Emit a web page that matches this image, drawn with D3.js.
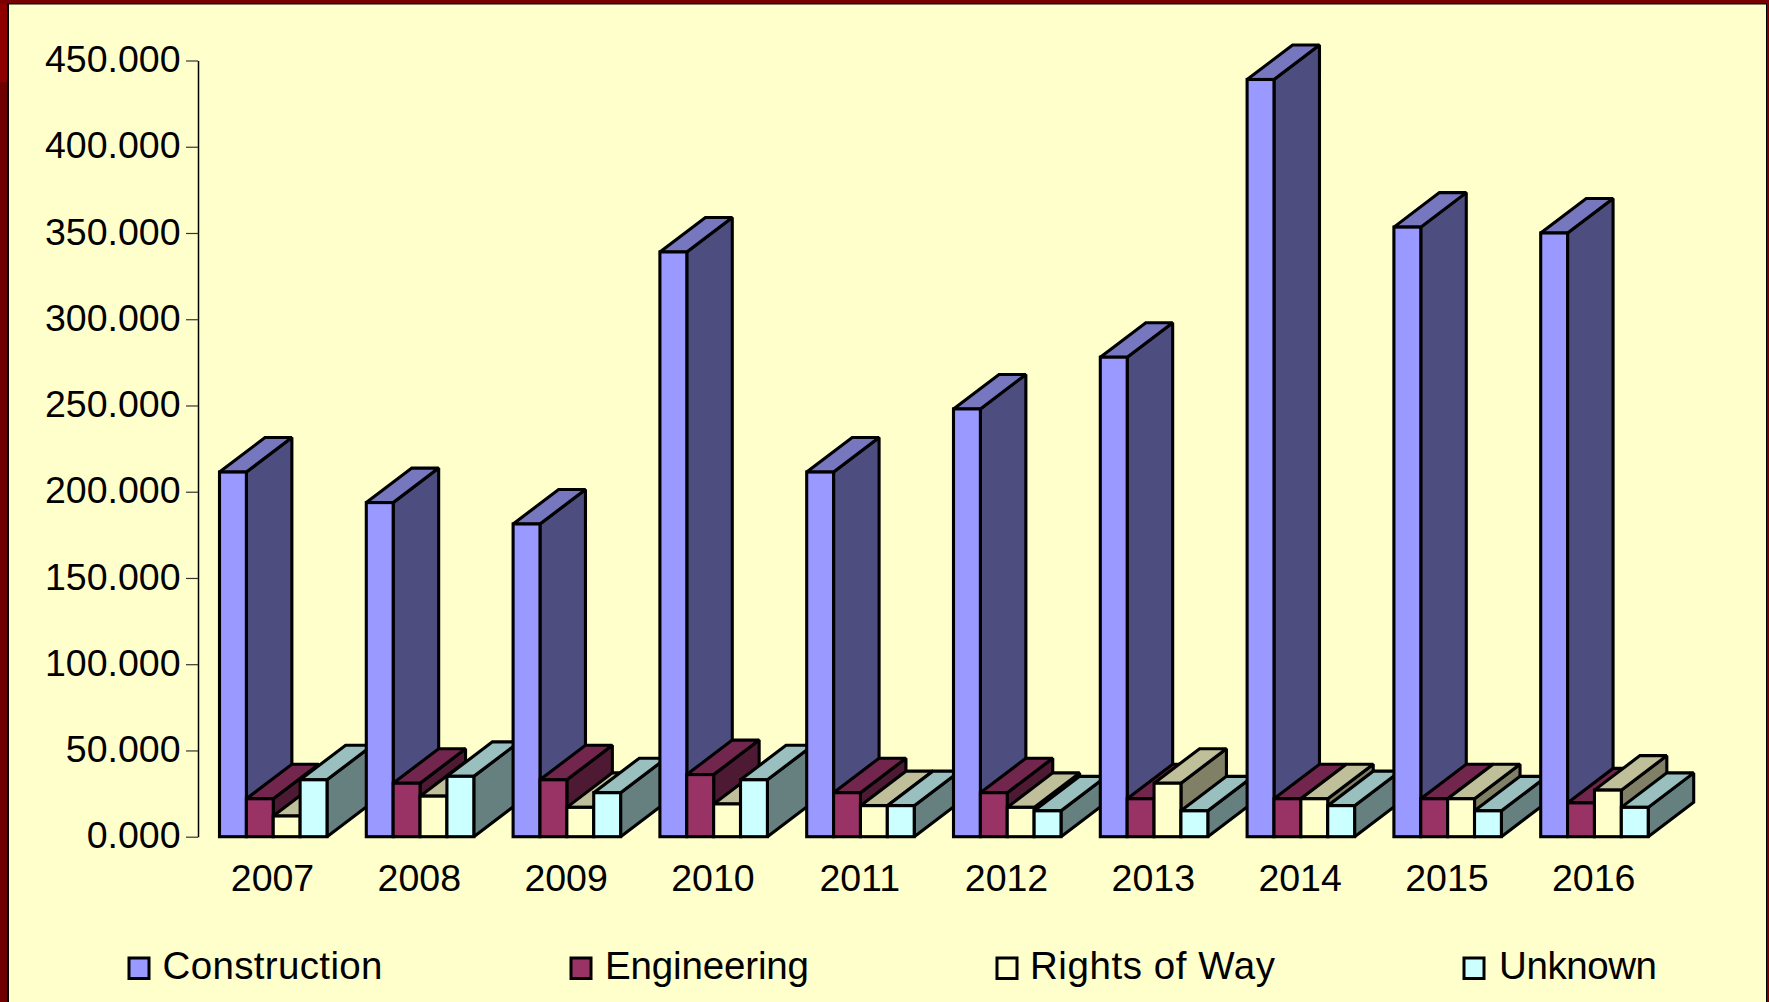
<!DOCTYPE html>
<html>
<head>
<meta charset="utf-8">
<script src="https://cdn.jsdelivr.net/npm/d3@7"></script>
<style>
html,body{margin:0;padding:0;background:#FFFFCC;overflow:hidden}
svg{display:block}
text{font-family:"Liberation Sans",Arial,sans-serif;fill:#000}
</style>
</head>
<body>
<svg id="chart" width="1769" height="1002"></svg>
<script>
const years = ["2007","2008","2009","2010","2011","2012","2013","2014","2015","2016"];
const seriesNames = ["Construction","Engineering","Rights of Way","Unknown"];
const construction = [211.4,193.7,181.3,339,211.4,248,278,439,353.4,350];
const engineering = [22,31,33,36,25.5,25.5,22,22,22,19.6];
const rightsOfWay = [12,23.5,17,19,18,17,31,22,22,27];
const unknown = [33,35,25.5,33,18,15,15,18,15,17];
const seriesValues = [construction,engineering,rightsOfWay,unknown];
const yTicks = [0,50,100,150,200,250,300,350,400,450];
const frontColors = ["#9999FF","#993366","#FFFFCC","#CCFFFF"];
const topColors = ["#7777BF","#73264D","#BFBF99","#99BFBF"];
const sideColors = ["#4D4D80","#4D1933","#808066","#668080"];
const legendTickX = [129,571,997,1464];
const legendTextX = [162.5,605,1030,1499];
const legendTextWidth = [220,204,245,158];

const W=1769,H=1002;
const svg=d3.select("#chart");

// slide background
svg.append("rect").attr("width",W).attr("height",82).attr("fill","#8E0000");
svg.append("rect").attr("y",82).attr("width",W).attr("height",H-82).attr("fill","#6E0000");
svg.append("rect").attr("width",W).attr("height",3.5).attr("fill","#7A0000");
svg.append("rect").attr("x",1767.5).attr("width",2).attr("height",H).attr("fill","#7A0000");
svg.append("rect").attr("x",7).attr("y",3.3).attr("width",1760).attr("height",H).attr("fill","#000");
svg.append("rect").attr("x",9).attr("y",4.5).attr("width",1757).attr("height",H).attr("fill","#FFFFCC");

const y=d3.scaleLinear().domain([0,450]).range([836.7,60.5]);
const x0=d3.scaleBand().domain(years).range([219.5,219.5+146.8*10]).paddingInner(0).paddingOuter(0).align(0);
const x1=d3.scaleBand().domain(seriesNames).range([0,107.5]);
const depthX=45.5,depthY=34.5;

// axis
const axis=d3.axisLeft(y).tickValues(yTicks).tickFormat(d=>d3.format(".3f")(d)).tickSize(12).tickSizeOuter(0).tickPadding(8);
const gAxis=svg.append("g").attr("transform","translate(198,0)").call(axis);
gAxis.select(".domain").attr("stroke","#000").attr("stroke-width",1.5);
gAxis.selectAll(".tick line").attr("stroke","#333").attr("stroke-width",1.2);
gAxis.selectAll("text").style("font-size","37.5px").attr("fill","#000").attr("dy","0.30em").attr("x",-17.5).style("font-family",'"Liberation Sans",Arial,sans-serif');

// bars
const marks=svg.append("g").attr("stroke","#000").attr("stroke-width",3.1).attr("stroke-linejoin","miter").attr("stroke-miterlimit",2);
years.forEach((yr,i)=>{
  seriesNames.forEach((s,j)=>{
    const xl=x0(yr)+x1(s), xr=xl+x1.bandwidth();
    const yt=y(seriesValues[j][i]), yb=y(0);
    const pt=(a)=>a.map(p=>p.join(",")).join(" ");
    marks.append("polygon").attr("points",pt([[xr,yt],[xr+depthX,yt-depthY],[xr+depthX,yb-depthY],[xr,yb]])).attr("fill",sideColors[j]);
    marks.append("polygon").attr("points",pt([[xl,yt],[xl+depthX,yt-depthY],[xr+depthX,yt-depthY],[xr,yt]])).attr("fill",topColors[j]);
    marks.append("rect").attr("x",xl).attr("y",yt).attr("width",xr-xl).attr("height",yb-yt).attr("fill",frontColors[j]);
  });
});

// category labels
svg.append("g").selectAll("text").data(years).join("text")
  .attr("x",d=>x0(d)+53).attr("y",891)
  .attr("text-anchor","middle").style("font-size","37.5px").text(d=>d);

// legend
const lg=svg.append("g").selectAll("g").data(seriesNames).join("g");
lg.append("rect").attr("x",(d,i)=>legendTickX[i]).attr("y",958).attr("width",20).attr("height",20.5)
  .attr("fill",(d,i)=>frontColors[i]).attr("stroke","#000").attr("stroke-width",3);
lg.append("text").attr("x",(d,i)=>legendTextX[i]).attr("y",979).style("font-size","38.5px")
  .attr("textLength",(d,i)=>legendTextWidth[i]).attr("lengthAdjust","spacing").text(d=>d);
</script>
</body>
</html>
